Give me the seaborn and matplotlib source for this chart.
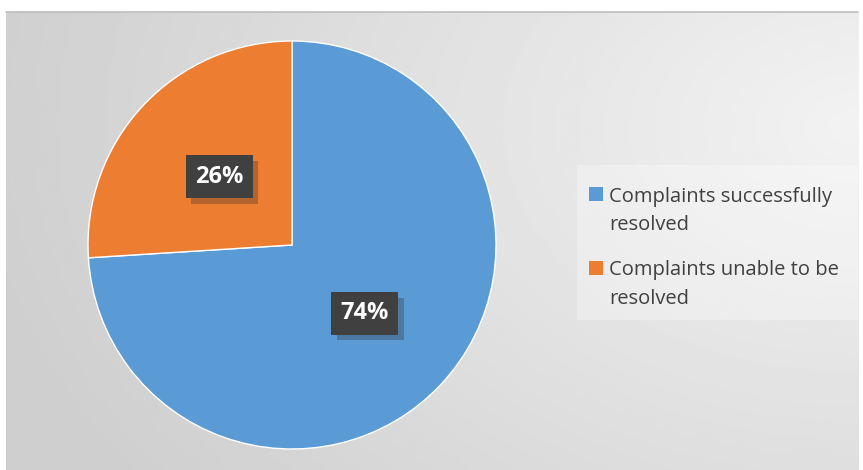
import numpy as np
import seaborn as sns
import matplotlib.pyplot as plt
import matplotlib.patheffects as pe
from matplotlib.patches import Rectangle

# -------------------- Data --------------------
labels = ['Complaints successfully\nresolved', 'Complaints unable to be\nresolved']
shares = [74, 26]
colors = sns.color_palette(['#5B9BD5', '#ED7D31'])

sns.set_theme(style='white')
plt.rcParams['font.family'] = ['Open Sans', 'DejaVu Sans']

W, H = 863, 470
fig = plt.figure(figsize=(W / 100, H / 100), dpi=100)
fig.patch.set_facecolor('white')

# -------------------- Gradient background --------------------
bg = fig.add_axes([6 / W, 0, 852 / W, 458 / H])
xx, yy = np.meshgrid(np.linspace(0, 1, 300), np.linspace(0, 1, 200))
dist = np.sqrt((xx - 1.0) ** 2 + (yy - 0.75) ** 2 * 0.6)
shade = 0.95 - 0.14 * np.clip(dist / 1.05, 0, 1)
bg.imshow(shade, cmap='gray', vmin=0, vmax=1, aspect='auto', extent=[0, 1, 0, 1], origin='lower')
bg.set_axis_off()
bg.plot([0, 1], [1, 1], color='#bdbdbd', lw=1.2, transform=bg.transAxes, clip_on=False)

# -------------------- Pie --------------------
cx, cy, r = 292, 245, 204
ax = fig.add_axes([(cx - r) / W, (H - cy - r) / H, 2 * r / W, 2 * r / H])
ax.set_facecolor('none')
wedges, texts, autotexts = ax.pie(
    shares, colors=colors, startangle=90, counterclock=False,
    autopct='%d%%', pctdistance=0.49,
    wedgeprops=dict(edgecolor='white', linewidth=1),
    textprops=dict(color='white', fontsize=17, fontweight='bold'),
)
ax.set_xlim(-1, 1)
ax.set_ylim(-1, 1)
ax.set_aspect('equal')
for t in autotexts:
    t.set_bbox(dict(boxstyle='square,pad=0.4', facecolor='#404040', edgecolor='none'))
    t.get_bbox_patch().set_path_effects([
        pe.SimplePatchShadow(offset=(4, -4), shadow_rgbFace='#2a2a2a', alpha=0.3),
        pe.Normal()])

# -------------------- Legend (drawn by hand, square aligned to first line) --------------------
def px(x, y):
    return x / W, 1 - y / H

fig.patches.append(Rectangle(px(577, 320), 281 / W, 155 / H, transform=fig.transFigure,
                             facecolor='white', alpha=0.3, edgecolor='none', zorder=1))
for i, (lab, c) in enumerate(zip(labels, colors)):
    top = 187 + i * 74
    fig.patches.append(Rectangle(px(589, top + 14), 14 / W, 14 / H, transform=fig.transFigure,
                                 facecolor=c, edgecolor='none', zorder=2))
    for j, line in enumerate(lab.split('\n')):
        fig.text(*px(609, 202 + i * 73 + j * 28.5), line, fontsize=14.5, color='#404040',
                 va='baseline', ha='left', zorder=3)

fig.savefig('out.png', dpi=100)
